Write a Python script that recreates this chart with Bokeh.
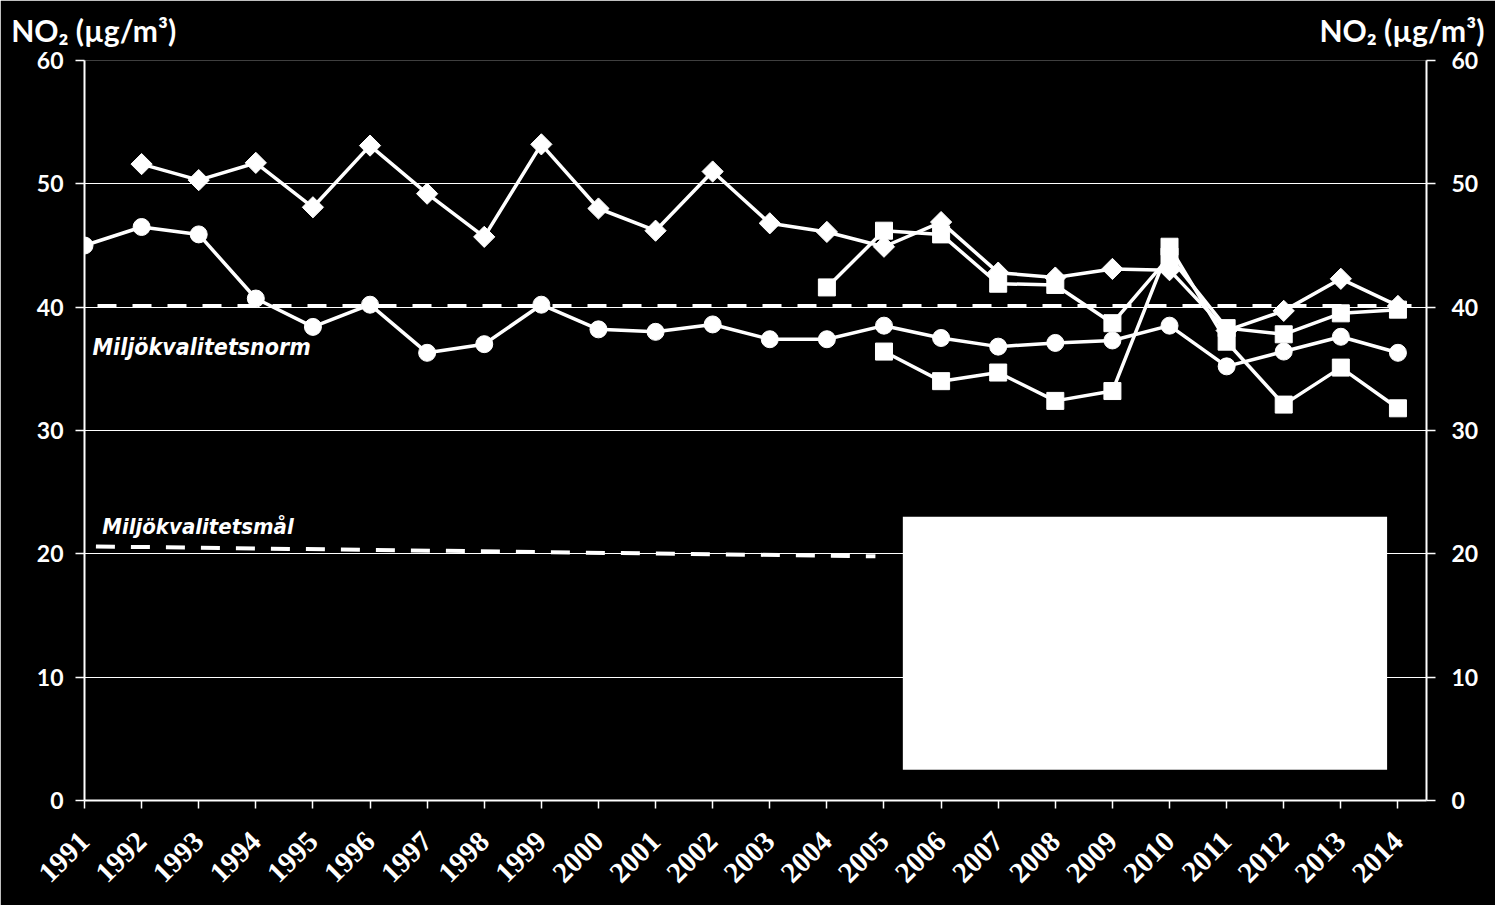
import math
from bokeh.plotting import figure
from bokeh.models import (Range1d, LinearAxis, FixedTicker, Label, BoxAnnotation,
                          CustomJSTickFormatter)
from bokeh.embed import file_html
from bokeh.resources import INLINE

# ---- data ----
years_circle = list(range(1991, 2015))
circle_vals = [45.0, 46.5, 45.9, 40.7, 38.4, 40.2, 36.3, 37.0, 40.2, 38.2, 38.0, 38.6,
               37.4, 37.4, 38.5, 37.5, 36.8, 37.1, 37.3, 38.5, 35.2, 36.4, 37.6, 36.3]

years_diamond = list(range(1992, 2015))
diamond_vals = [51.6, 50.3, 51.7, 48.1, 53.1, 49.2, 45.7, 53.2, 48.0, 46.2, 51.0,
                46.8, 46.1, 44.9, 46.9, 42.8, 42.4, 43.1, 43.0, 38.1, 39.7, 42.3, 40.1]

years_sq_a = list(range(2004, 2015))
sq_a_vals = [41.6, 46.2, 45.9, 41.9, 41.8, 38.7, 44.1, 38.3, 37.8, 39.5, 39.8]

years_sq_b = list(range(2005, 2015))
sq_b_vals = [36.4, 34.0, 34.7, 32.4, 33.2, 44.9, 37.2, 32.1, 35.1, 31.8]

norm_x = [1991.0, 2014.5]
norm_y = [40.1, 40.1]
mal_x = [1991.2, 2004.85]
mal_y = [20.6, 19.8]

x_ticks = list(range(1991, 2015))
y_ticks = [0, 10, 20, 30, 40, 50, 60]
title_ticks = [1991.16, 2014.07]   # centres of the two unit captions above the plot

norm_label = "Miljökvalitetsnorm"
mal_label = "Miljökvalitetsmål"
axis_title = "NO\u2082 (\u00b5g/m\u00b3)"

# ---- figure ----
W, H = 1495, 905
p = figure(width=W, height=H, output_backend="svg", toolbar_location=None,
           x_range=Range1d(1991, 2014.5), y_range=Range1d(0, 60),
           min_border_left=84, min_border_right=69, min_border_top=60, min_border_bottom=105,
           background_fill_color="black", border_fill_color="black")
p.outline_line_color = None
p.xgrid.grid_line_color = None
p.ygrid.grid_line_color = "white"
p.ygrid.grid_line_width = 1.2
p.ygrid.ticker = FixedTicker(ticks=y_ticks)

tick_font = "Lato"

# bottom axis
xa = p.xaxis[0]
xa.ticker = FixedTicker(ticks=x_ticks)
xa.axis_line_color = "white"
xa.axis_line_width = 2
xa.major_tick_line_color = "white"
xa.major_tick_line_width = 1.5
xa.major_tick_out = 8
xa.major_tick_in = 0
xa.minor_tick_line_color = None
xa.major_label_orientation = math.pi / 4
xa.major_label_text_color = "white"
xa.major_label_text_font = "Liberation Serif"
xa.major_label_text_font_style = "bold"
xa.major_label_text_font_size = "29px"
xa.major_label_standoff = 28


def style_y(ax, standoff):
    ax.ticker = FixedTicker(ticks=y_ticks)
    ax.axis_line_color = "white"
    ax.axis_line_width = 2
    ax.major_tick_line_color = "white"
    ax.major_tick_line_width = 1.5
    ax.major_tick_out = 9
    ax.major_tick_in = 0
    ax.minor_tick_line_color = None
    ax.major_label_text_color = "white"
    ax.major_label_text_font = tick_font
    ax.major_label_text_font_style = "bold"
    ax.major_label_text_font_size = "23px"
    ax.major_label_standoff = standoff


style_y(p.yaxis[0], 12)
ra = LinearAxis()
style_y(ra, 16)
p.add_layout(ra, "right")

# unit captions above the plot (drawn as labels of a bare top axis)
ta = LinearAxis(ticker=FixedTicker(ticks=title_ticks),
                formatter=CustomJSTickFormatter(args=dict(t=axis_title), code="return t;"))
ta.axis_line_color = None
ta.major_tick_line_color = None
ta.minor_tick_line_color = None
ta.major_tick_out = 0
ta.major_tick_in = 0
ta.major_label_text_color = "white"
ta.major_label_text_font = tick_font
ta.major_label_text_font_style = "bold"
ta.major_label_text_font_size = "30px"
ta.major_label_standoff = 13
p.add_layout(ta, "above")

# reference dashed lines
p.line(norm_x, norm_y, line_color="white", line_width=4, line_dash="19 16", line_dash_offset=-13)
p.line(mal_x, mal_y, line_color="white", line_width=4, line_dash="19 16")

# series
lw = 3.5
p.line(years_diamond, diamond_vals, line_color="white", line_width=lw)
p.scatter(years_diamond, diamond_vals, marker="square", angle=math.pi / 4, size=15,
          fill_color="white", line_color="white")

p.line(years_circle, circle_vals, line_color="white", line_width=lw)
p.scatter(years_circle, circle_vals, marker="circle", size=17,
          fill_color="white", line_color="white")

p.line(years_sq_a, sq_a_vals, line_color="white", line_width=lw)
p.scatter(years_sq_a, sq_a_vals, marker="square", size=17,
          fill_color="white", line_color="white")

p.line(years_sq_b, sq_b_vals, line_color="white", line_width=lw)
p.scatter(years_sq_b, sq_b_vals, marker="square", size=17,
          fill_color="white", line_color="white")

# labels
lab_font = "'Liberation Sans Narrow', 'DejaVu Sans Condensed', sans-serif"
p.add_layout(Label(x=1991.14, y=36.8, text=norm_label, text_color="white",
                   text_font=lab_font, text_font_style="bold italic",
                   text_font_size="23px", text_baseline="alphabetic"))
p.add_layout(Label(x=1991.31, y=22.2, text=mal_label, text_color="white",
                   text_font=lab_font, text_font_style="bold italic",
                   text_font_size="22px", text_baseline="alphabetic"))

# empty white legend box
p.add_layout(BoxAnnotation(left=2005.33, right=2013.81, bottom=2.5, top=23.0,
                           fill_color="white", fill_alpha=1.0, line_color=None))

open("out.html", "w").write(file_html(p, INLINE))
